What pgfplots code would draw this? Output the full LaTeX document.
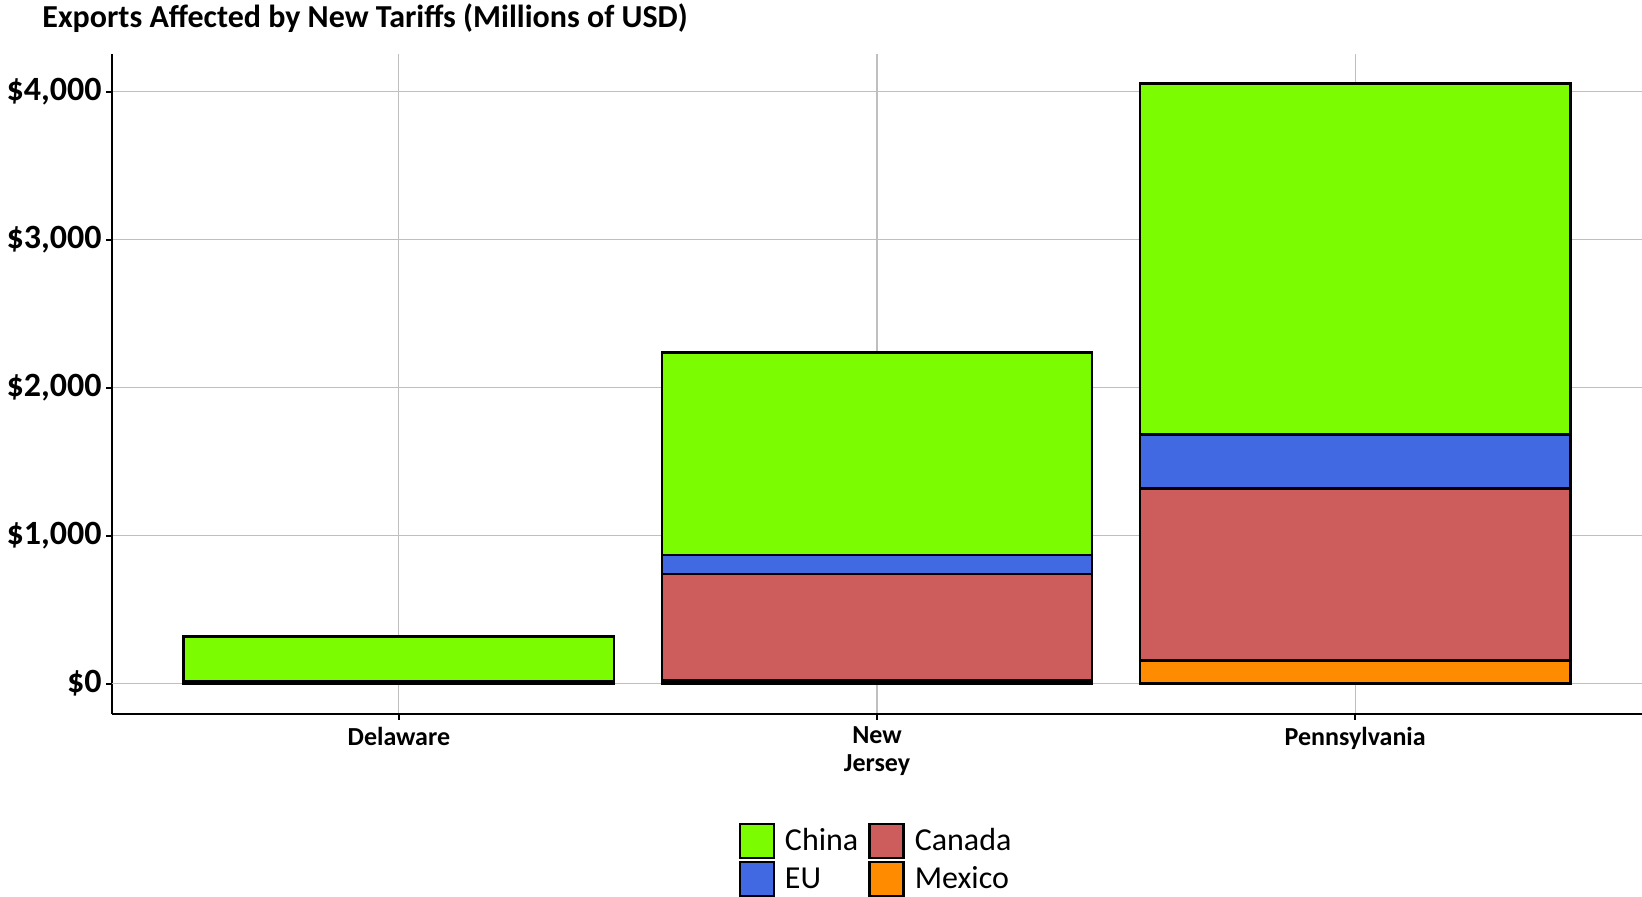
\documentclass[border=0pt]{standalone}
\usepackage{fontspec}
\setmainfont{Carlito}
\usepackage{pgfplots}
\pgfplotsset{compat=1.18}
\definecolor{cChina}{HTML}{7CFC00}
\definecolor{cEU}{HTML}{4169E1}
\definecolor{cCanada}{HTML}{CD5C5C}
\definecolor{cMexico}{HTML}{FF8C00}
\begin{document}
\begin{tikzpicture}[x=1pt,y=1pt]
\useasboundingbox (0,0) rectangle (821,448.5);
\node[anchor=west, inner sep=0pt, font=\fontsize{16}{19}\selectfont\bfseries] at (21,439.5) {Exports Affected by New Tariffs (Millions of USD)};
\begin{axis}[
  at={(56pt,91.5pt)}, anchor=south west,
  scale only axis, width=765pt, height=330pt,
  xmin=-0.6, xmax=2.6, ymin=-205, ymax=4255,
  ybar stacked, bar width=0.9,
  axis x line*=bottom, axis y line*=left,
  axis line style={-, black, line width=1pt},
  xtick={0,1,2}, xticklabels={Delaware,{New\\Jersey},Pennsylvania},
  ytick={0,1000,2000,3000,4000},
  yticklabels={\$0,{\$1,000},{\$2,000},{\$3,000},{\$4,000}},
  x tick label style={align=center, font=\fontsize{13}{14}\selectfont\bfseries, anchor=north},
  y tick label style={font=\fontsize{17}{20}\selectfont\bfseries, inner sep=2pt},
  tick align=outside, major tick length=3pt,
  tick style={black, line width=1pt},
  xtick pos=bottom, ytick pos=left,
  grid=major, major grid style={gray!50, line width=0.6pt},
  extra y ticks={0}, extra y tick labels={},
  extra y tick style={grid style={black, line width=1.8pt}, major tick length=0pt},
  legend style={at={(0.5,-0.158)}, anchor=north, draw=none, fill=none,
    font=\fontsize{16}{19}\selectfont, legend columns=2,
    /tikz/every odd column/.append style={column sep=3pt},
    /tikz/every even column/.append style={column sep=3pt},
    row sep=1pt},
  legend cell align=left,
  legend image code/.code={\draw[#1, draw=black, line width=1.2pt] (0pt,-8.5pt) rectangle (17pt,8.5pt);},
]
\addlegendimage{fill=cChina}
\addlegendimage{fill=cCanada}
\addlegendimage{fill=cEU}
\addlegendimage{fill=cMexico}
\addplot[fill=cMexico, draw=black, line width=1.3pt] coordinates {(0,3) (1,22) (2,156)};
\addplot[fill=cCanada, draw=black, line width=1.3pt] coordinates {(0,12) (1,720) (2,1161)};
\addplot[fill=cEU, draw=black, line width=1.3pt] coordinates {(0,3) (1,128) (2,368)};
\addplot[fill=cChina, draw=black, line width=1.3pt] coordinates {(0,300) (1,1367) (2,2372)};
\legend{China,Canada,EU,Mexico}
\end{axis}
\end{tikzpicture}
\end{document}
